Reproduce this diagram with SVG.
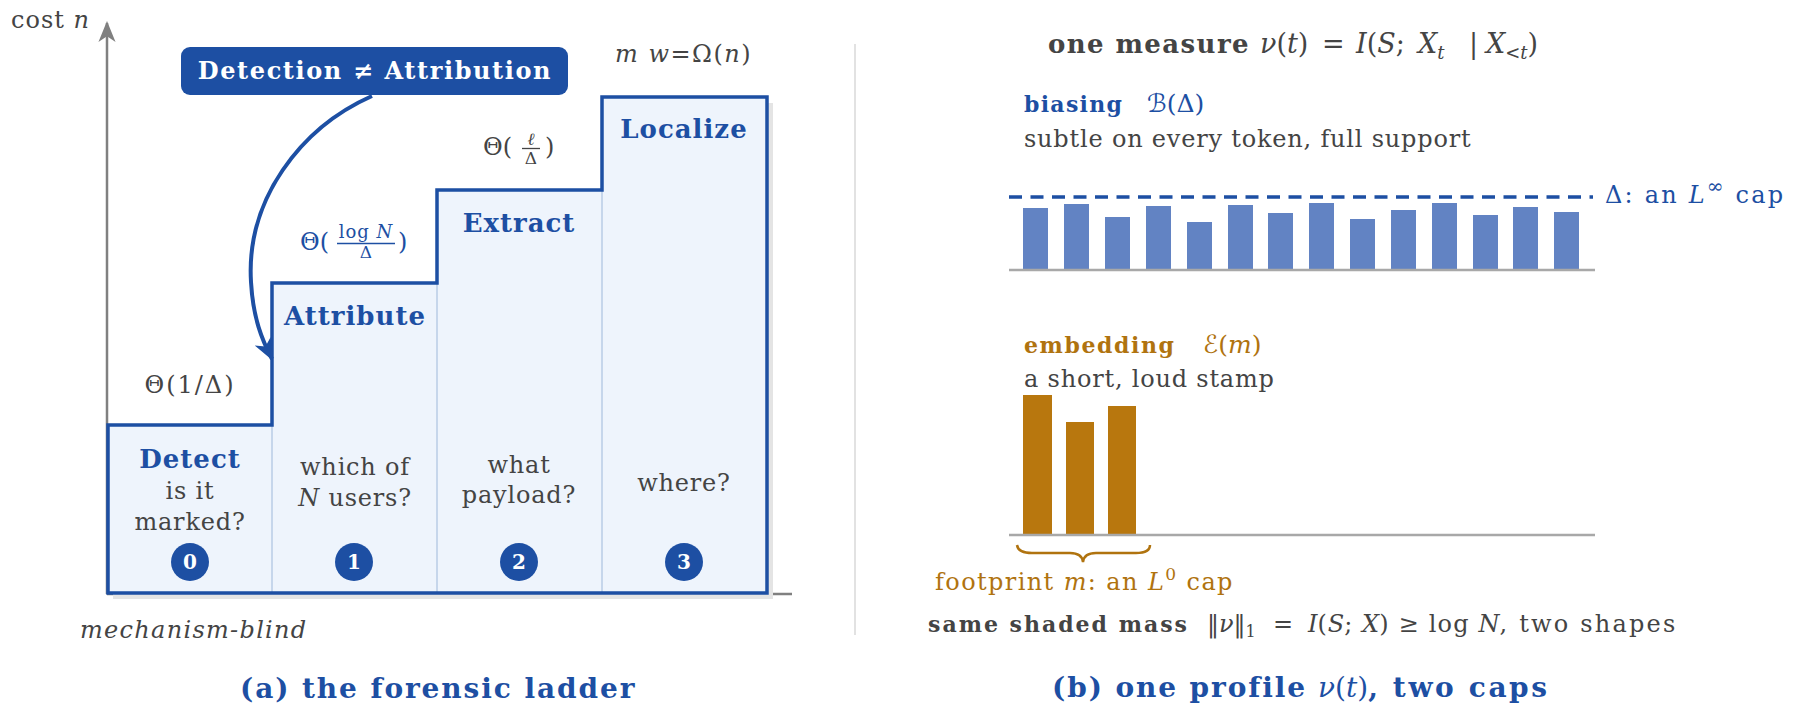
<svg xmlns="http://www.w3.org/2000/svg" width="1800" height="719" viewBox="0 0 1800 719">
<style>
text{font-family:"DejaVu Serif","Liberation Serif","DejaVu Sans",serif;}
.rg{font-size:24px;letter-spacing:0.8px;fill:#444;}
.bd{font-weight:bold;}
.lb{font-size:26px;font-weight:bold;letter-spacing:1px;fill:#1d4fa3;text-anchor:middle;}
.it{font-style:italic;}
.mt{letter-spacing:0px;}
.blue{fill:#1d4fa3;}
.brown{fill:#b0730f;}
.gray{fill:#444;}
.mid{text-anchor:middle;}
.num{font-size:20px;font-weight:bold;fill:#fff;text-anchor:middle;}
.badge{fill:#1d4fa3;}
.stepfill{fill:#eef4fc;}
.div{stroke:#b9cce6;stroke-width:1.5;}
.axis{stroke:#808080;stroke-width:2.5;fill:none;}
.base{stroke:#a8a8a8;stroke-width:2.5;}
.bbar{fill:#6283c3;}
.obar{fill:#b8770e;}
.frac{stroke-width:1.3;}
</style>
<defs>
<marker id="ahBlue" viewBox="0 0 22 20" refX="20" refY="10" markerWidth="22" markerHeight="20" markerUnits="userSpaceOnUse" orient="auto">
<path d="M0,1 L22,10 L0,19 L6,10 Z" fill="#1d4fa3"/>
</marker>
<marker id="ahGray" viewBox="0 0 22 20" refX="20" refY="10" markerWidth="22" markerHeight="19" markerUnits="userSpaceOnUse" orient="auto">
<path d="M0,1 L22,10 L0,19 L6,10 Z" fill="#808080"/>
</marker>
</defs>
<rect width="1800" height="719" fill="#fff"/>

<!-- Panel (a) axes -->
<g id="axes-a">
<line class="axis" x1="107" y1="594" x2="792" y2="594"/>
<line class="axis" x1="107" y1="594" x2="107" y2="23" marker-end="url(#ahGray)"/>
<text x="11" y="28" class="rg" style="letter-spacing:1px">cost <tspan class="it mt">n</tspan></text>
</g>

<!-- ladder shadow -->
<polygon points="113,599 113,431 277,431 277,289 442,289 442,196 607,196 607,103 773,103 773,599" fill="#e4e4e4"/>

<g id="step-detect">
<rect class="stepfill" x="108" y="425" width="164" height="168"/>
<text class="lb" x="190" y="468">Detect</text>
<text class="rg mid" x="190" y="499">is it</text>
<text class="rg mid" x="190" y="530">marked?</text>
<circle class="badge" cx="190" cy="562" r="19"/>
<text class="num" x="190" y="569">0</text>
</g>
<g id="step-attribute">
<rect class="stepfill" x="272" y="283" width="165" height="310"/>
<text class="lb" x="355" y="325">Attribute</text>
<text class="rg mid" x="355" y="475">which of</text>
<text class="rg mid" x="355" y="506"><tspan class="it">N</tspan> users?</text>
<circle class="badge" cx="354" cy="562" r="19"/>
<text class="num" x="354" y="569">1</text>
</g>
<g id="step-extract">
<rect class="stepfill" x="437" y="190" width="165" height="403"/>
<text class="lb" x="519" y="232">Extract</text>
<text class="rg mid" x="519" y="473">what</text>
<text class="rg mid" x="519" y="503">payload?</text>
<circle class="badge" cx="519" cy="562" r="19"/>
<text class="num" x="519" y="569">2</text>
</g>
<g id="step-localize">
<rect class="stepfill" x="602" y="97" width="165" height="496"/>
<text class="lb" x="684" y="138">Localize</text>
<text class="rg mid" x="684" y="491">where?</text>
<circle class="badge" cx="684" cy="562" r="19"/>
<text class="num" x="684" y="569">3</text>
</g>
<g id="ladder-lines">
<line class="div" x1="272" y1="425" x2="272" y2="593"/>
<line class="div" x1="437" y1="283" x2="437" y2="593"/>
<line class="div" x1="602" y1="190" x2="602" y2="593"/>
<polygon points="108,593 108,425 272,425 272,283 437,283 437,190 602,190 602,97 767,97 767,593" fill="none" stroke="#1d4fa3" stroke-width="3.5" stroke-linejoin="miter"/>
</g>

<!-- cost labels -->
<g id="cost-labels">
<text class="rg mid" x="190" y="393" style="font-size:24px;letter-spacing:2px">Θ(1/Δ)</text>
<text class="blue" x="300" y="250" style="font-size:24px">Θ(</text>
<text class="blue mid" x="366" y="238" style="font-size:18px;letter-spacing:1px">log <tspan class="it">N</tspan></text>
<line class="frac" x1="337" y1="243.5" x2="395" y2="243.5" stroke="#1d4fa3"/>
<text class="blue mid" x="366" y="258" style="font-size:17px">Δ</text>
<text class="blue" x="398" y="250" style="font-size:24px">)</text>
<text class="gray" x="483" y="155" style="font-size:24px">Θ(</text>
<text class="gray mid it" x="531" y="145" style="font-size:17px">ℓ</text>
<line class="frac" x1="522" y1="148.5" x2="540" y2="148.5" stroke="#444"/>
<text class="gray mid" x="531" y="164" style="font-size:17px">Δ</text>
<text class="gray" x="545" y="155" style="font-size:24px">)</text>
<text class="gray" x="615" y="62" style="font-size:24px;letter-spacing:1.5px"><tspan class="it">m</tspan> <tspan class="it">w</tspan>=Ω(<tspan class="it">n</tspan>)</text>
</g>

<g id="label-detection">
<rect x="181" y="47" width="387" height="48" rx="9" fill="#1d4fa3"/>
<text x="375" y="79" text-anchor="middle" style="font-size:24px;font-weight:bold;letter-spacing:1.6px;fill:#fff">Detection ≠ Attribution</text>
</g>

<g id="connectors">
<path d="M372,96 C300,128 246,200 251,282 C253,318 262,340 272,359" fill="none" stroke="#1d4fa3" stroke-width="4" marker-end="url(#ahBlue)"/>
</g>

<text class="rg it" x="80" y="638" style="letter-spacing:1.3px">mechanism-blind</text>
<text class="blue bd" x="240" y="698" style="font-size:28px;letter-spacing:1.9px">(a)  the forensic ladder</text>

<!-- separator -->
<line x1="855" y1="44" x2="855" y2="635" stroke="#d9d9d9" stroke-width="1.5"/>

<!-- Panel (b) -->
<g id="measure-title">
<text class="gray" y="53" style="font-size:27px">
<tspan x="1048" class="bd" style="font-size:26px;letter-spacing:1.4px">one measure</tspan>
<tspan x="1260" class="it">ν</tspan><tspan>(</tspan><tspan class="it">t</tspan><tspan>)</tspan>
<tspan x="1322">=</tspan>
<tspan x="1356" class="it">I</tspan><tspan>(</tspan><tspan class="it">S</tspan><tspan>;</tspan><tspan x="1418" class="it">X</tspan><tspan class="it" dy="6" style="font-size:18px">t</tspan>
<tspan x="1469" dy="-6">|</tspan>
<tspan x="1486" class="it">X</tspan><tspan dy="6" style="font-size:18px">&lt;</tspan><tspan class="it" style="font-size:18px">t</tspan><tspan dy="-6">)</tspan>
</text>
</g>

<g id="biasing">
<text x="1024" y="112" class="blue"><tspan class="bd" style="font-size:22px;letter-spacing:1.3px">biasing</tspan><tspan x="1147" class="it" style="font-size:25px">ℬ</tspan><tspan style="font-size:25px">(Δ)</tspan></text>
<text class="rg" x="1024" y="147">subtle on every token, full support</text>
<line x1="1009" y1="197" x2="1593" y2="197" stroke="#1d4fa3" stroke-width="3.5" stroke-dasharray="13 8.5"/>
<text class="blue" x="1605" y="203" style="font-size:24px;letter-spacing:2.2px">Δ: an <tspan class="it">L</tspan><tspan dy="-10" style="font-size:20px">∞</tspan><tspan dy="10"> cap</tspan></text>
<rect class="bbar" x="1023" y="208" width="25" height="61"/>
<rect class="bbar" x="1064" y="204" width="25" height="65"/>
<rect class="bbar" x="1105" y="217" width="25" height="52"/>
<rect class="bbar" x="1146" y="206" width="25" height="63"/>
<rect class="bbar" x="1187" y="222" width="25" height="47"/>
<rect class="bbar" x="1228" y="205" width="25" height="64"/>
<rect class="bbar" x="1268" y="213" width="25" height="56"/>
<rect class="bbar" x="1309" y="203" width="25" height="66"/>
<rect class="bbar" x="1350" y="219" width="25" height="50"/>
<rect class="bbar" x="1391" y="210" width="25" height="59"/>
<rect class="bbar" x="1432" y="203" width="25" height="66"/>
<rect class="bbar" x="1473" y="215" width="25" height="54"/>
<rect class="bbar" x="1513" y="207" width="25" height="62"/>
<rect class="bbar" x="1554" y="212" width="25" height="57"/>
<line class="base" x1="1009" y1="270" x2="1595" y2="270"/>
</g>

<g id="embedding">
<text x="1024" y="353" class="brown"><tspan class="bd" style="font-size:22px;letter-spacing:1.6px">embedding</tspan><tspan x="1203" class="it" style="font-size:25px">ℰ</tspan><tspan style="font-size:25px">(<tspan class="it">m</tspan>)</tspan></text>
<text class="rg" x="1024" y="387">a short, loud stamp</text>
<rect class="obar" x="1023" y="395" width="29" height="139"/>
<rect class="obar" x="1066" y="422" width="28" height="112"/>
<rect class="obar" x="1108" y="406" width="28" height="128"/>
<line class="base" x1="1009" y1="535" x2="1595" y2="535"/>
<path d="M1017,545 Q1018,553 1032,553 L1070,553 Q1082,553 1083,562 Q1084,553 1096,553 L1136,553 Q1150,553 1150,545" fill="none" stroke="#b0730f" stroke-width="2.5"/>
<text class="brown" x="935" y="590" style="font-size:24px;letter-spacing:1.4px">footprint <tspan class="it">m</tspan>: an <tspan class="it">L</tspan><tspan dy="-10" style="font-size:17px">0</tspan><tspan dy="10"> cap</tspan></text>
</g>

<g id="mass-line">
<text class="gray" y="632" style="font-size:24px">
<tspan x="928" class="bd" style="font-size:22px;letter-spacing:2px">same shaded mass</tspan>
<tspan x="1207">‖</tspan><tspan class="it">ν</tspan><tspan>‖</tspan><tspan dy="5" style="font-size:16px">1</tspan>
<tspan x="1273" dy="-5">=</tspan>
<tspan x="1308" class="it">I</tspan><tspan style="letter-spacing:1px">(</tspan><tspan class="it">S</tspan><tspan style="letter-spacing:1px">; </tspan><tspan class="it">X</tspan><tspan style="letter-spacing:1.2px">) ≥ log </tspan><tspan class="it">N</tspan><tspan style="letter-spacing:2.2px">, two shapes</tspan>
</text>
</g>

<text class="blue" y="697" style="font-size:28px"><tspan x="1052" class="bd" style="letter-spacing:1.9px">(b)  one profile</tspan><tspan x="1318" class="it">ν</tspan><tspan>(</tspan><tspan class="it">t</tspan><tspan>)</tspan><tspan class="bd" style="letter-spacing:2.6px">, two caps</tspan></text>
</svg>
